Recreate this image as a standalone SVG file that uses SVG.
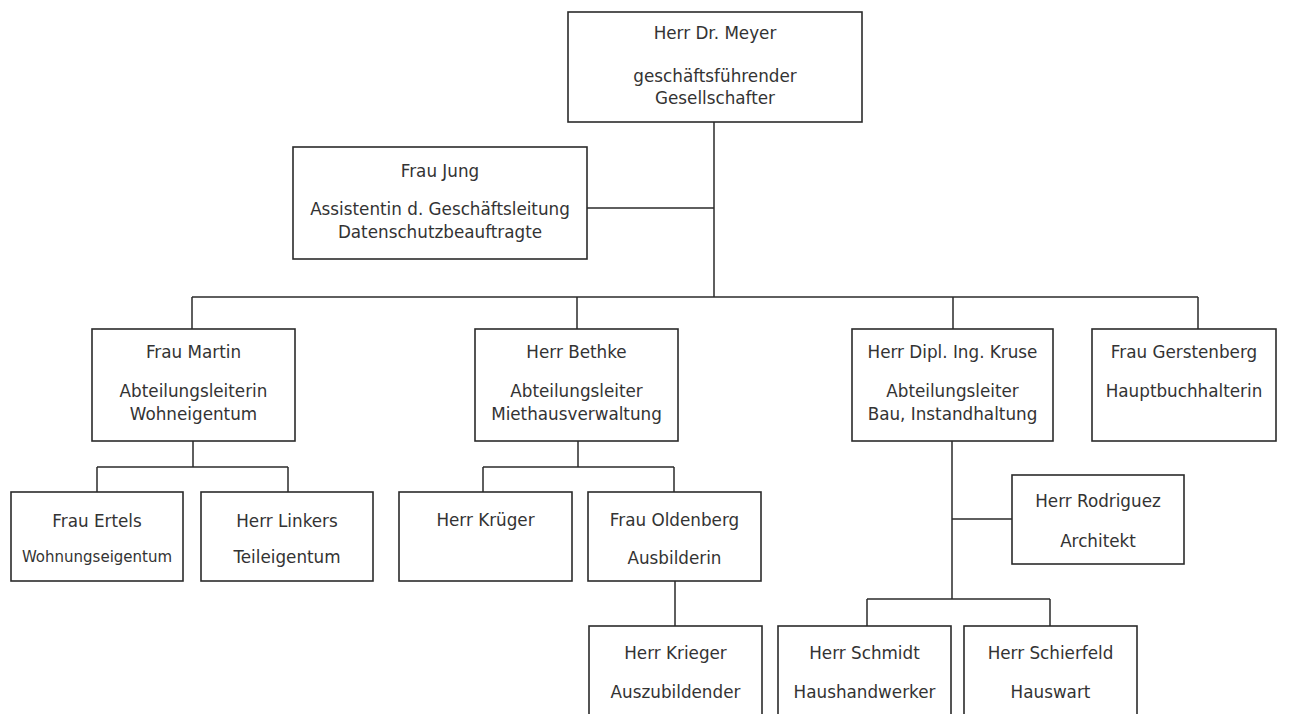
<svg xmlns="http://www.w3.org/2000/svg" width="1301" height="714" viewBox="0 0 1301 714">
<style>
.box{fill:#fff;stroke:#2b2b2b;stroke-width:1.6}
.con{fill:none;stroke:#2b2b2b;stroke-width:1.5}
text{font-family:"DejaVu Sans","Open Sans",sans-serif;font-size:16.8px;fill:#333;text-anchor:middle}
.sm{font-size:15px}
</style>
<rect width="1301" height="714" fill="#fff"/>
<g id="connectors">
<path class="con" d="M714 122V297M587 208H714M192 297H1198M192 297V329M577 297V329M953 297V329M1198 297V329"/>
<path class="con" d="M193 441V467M97 467H288M97 467V492M288 467V492"/>
<path class="con" d="M578 441V467M483 467H674M483 467V492M674 467V492M675 581V626"/>
<path class="con" d="M952 441V599M952 519H1012M867 599H1050M867 599V626M1050 599V626"/>
</g>
<g id="meyer"><rect class="box" x="568" y="12" width="294" height="110"/><text x="715" y="39">Herr Dr. Meyer</text><text x="715" y="82">geschäftsführender</text><text x="715" y="104">Gesellschafter</text></g>
<g id="jung"><rect class="box" x="293" y="147" width="294" height="112"/><text x="440" y="177">Frau Jung</text><text x="440" y="215">Assistentin d. Geschäftsleitung</text><text x="440" y="238">Datenschutzbeauftragte</text></g>
<g id="martin"><rect class="box" x="92" y="329" width="203" height="112"/><text x="193.5" y="358">Frau Martin</text><text x="193.5" y="397">Abteilungsleiterin</text><text x="193.5" y="420">Wohneigentum</text></g>
<g id="bethke"><rect class="box" x="475" y="329" width="203" height="112"/><text x="576.5" y="358">Herr Bethke</text><text x="576.5" y="397">Abteilungsleiter</text><text x="576.5" y="420">Miethausverwaltung</text></g>
<g id="kruse"><rect class="box" x="852" y="329" width="201" height="112"/><text x="952.5" y="358">Herr Dipl. Ing. Kruse</text><text x="952.5" y="397">Abteilungsleiter</text><text x="952.5" y="420">Bau, Instandhaltung</text></g>
<g id="gerstenberg"><rect class="box" x="1092" y="329" width="184" height="112"/><text x="1184" y="358">Frau Gerstenberg</text><text x="1184" y="397">Hauptbuchhalterin</text></g>
<g id="ertels"><rect class="box" x="11" y="492" width="172" height="89"/><text x="97" y="527">Frau Ertels</text><text class="sm" x="97" y="562">Wohnungseigentum</text></g>
<g id="linkers"><rect class="box" x="201" y="492" width="172" height="89"/><text x="287" y="527">Herr Linkers</text><text x="287" y="563">Teileigentum</text></g>
<g id="krueger"><rect class="box" x="399" y="492" width="173" height="89"/><text x="485.5" y="526">Herr Krüger</text></g>
<g id="oldenberg"><rect class="box" x="588" y="492" width="173" height="89"/><text x="674.5" y="526">Frau Oldenberg</text><text x="674.5" y="564">Ausbilderin</text></g>
<g id="krieger"><rect class="box" x="589" y="626" width="173" height="100"/><text x="675.5" y="659">Herr Krieger</text><text x="675.5" y="698">Auszubildender</text></g>
<g id="rodriguez"><rect class="box" x="1012" y="475" width="172" height="89"/><text x="1098" y="507">Herr Rodriguez</text><text x="1098" y="547">Architekt</text></g>
<g id="schmidt"><rect class="box" x="778" y="626" width="173" height="100"/><text x="864.5" y="659">Herr Schmidt</text><text x="864.5" y="698">Haushandwerker</text></g>
<g id="schierfeld"><rect class="box" x="964" y="626" width="173" height="100"/><text x="1050.5" y="659">Herr Schierfeld</text><text x="1050.5" y="698">Hauswart</text></g>
</svg>
